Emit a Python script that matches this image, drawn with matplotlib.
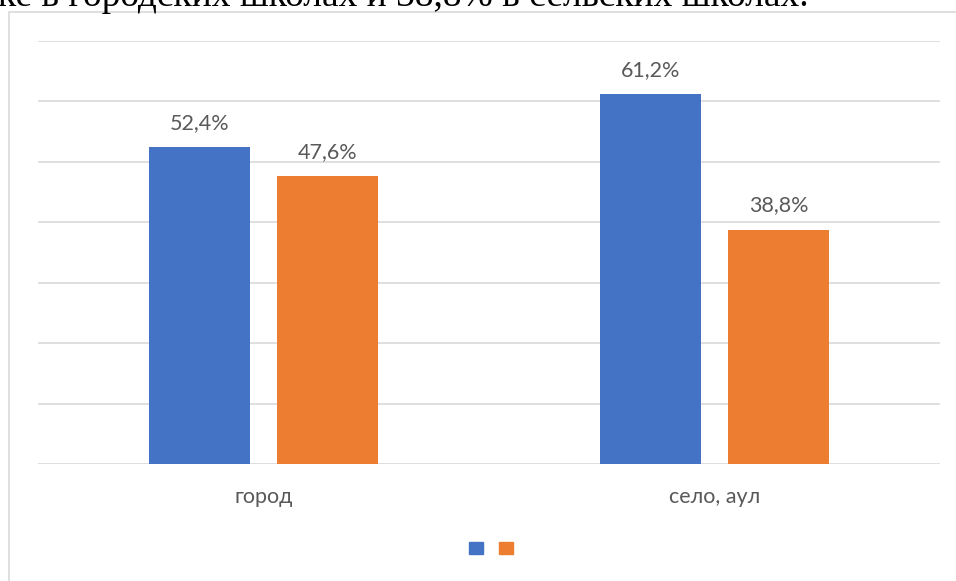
import matplotlib
matplotlib.use("Agg")
import matplotlib.pyplot as plt
from matplotlib.patches import Rectangle
import numpy as np

categories = ["город", "село, аул"]
series1 = [52.4, 61.2]
series2 = [47.6, 38.8]
labels1 = ["52,4%", "61,2%"]
labels2 = ["47,6%", "38,8%"]
blue = "#4472C4"
orange = "#ED7D31"

W, H = 956, 581
PX = 72 / 100  # points per pixel at dpi 100
fig = plt.figure(figsize=(W / 100, H / 100), dpi=100)
fig.patch.set_facecolor("white")

# cropped document text at top (only its lower part is visible)
fig.text(-2 / W, 1 - 6 / H, "ке в городских школах и 38,8% в сельских школах.",
         family="Liberation Serif", fontsize=27, color="black", va="baseline", ha="left")

# chart frame border
fig.add_artist(Rectangle((9 / W, -0.1), 1.2, 1 - 12 / H + 0.1, transform=fig.transFigure,
                         fill=False, edgecolor="#d9d9d9", linewidth=1.2))

ax = fig.add_axes([38 / W, 1 - 464 / H, (940 - 38) / W, (464 - 41) / H])
x = np.arange(len(categories))
bw = 0.224
off = 0.142
b1 = ax.bar(x - off, series1, bw, color=blue, zorder=3)
b2 = ax.bar(x + off, series2, bw, color=orange, zorder=3)
ax.set_xlim(-0.5, 1.5)
ax.set_ylim(0, 70)
ax.set_yticks(np.arange(0, 71, 10))
ax.yaxis.grid(True, color="#d9d9d9", linewidth=1.2, zorder=0)
ax.set_yticklabels([])
ax.tick_params(axis="y", length=0)
ax.set_xticks(x)
ax.set_xticklabels(["", ""])
ax.tick_params(axis="x", length=0)
for s in ax.spines.values():
    s.set_visible(False)

for xi, cat in zip(x, categories):
    ax.annotate(cat, (xi, 0), xycoords=("data", "axes fraction"),
                xytext=(0, -39 * PX), textcoords="offset points", ha="center", va="baseline",
                family="Lato", fontsize=15.5, color="#595959")

for bars, labs in ((b1, labels1), (b2, labels2)):
    for rect, lab in zip(bars, labs):
        ax.annotate(lab, (rect.get_x() + rect.get_width() / 2, rect.get_height()),
                    xytext=(0, 18 * PX), textcoords="offset points", ha="center", va="baseline",
                    family="Lato", fontsize=15.5, color="#595959")

# legend markers (no labels)
leg_handles = [Rectangle((0, 0), 1, 1, color=blue), Rectangle((0, 0), 1, 1, color=orange)]
fig.legend(leg_handles, ["", ""], loc="center", bbox_to_anchor=(491 / W, 1 - 549 / H),
           ncol=2, frameon=False, handlelength=1.0, handleheight=1.0,
           handletextpad=0.0, columnspacing=1.15, borderpad=0, borderaxespad=0)

fig.savefig("out.png", dpi=100, facecolor="white")
